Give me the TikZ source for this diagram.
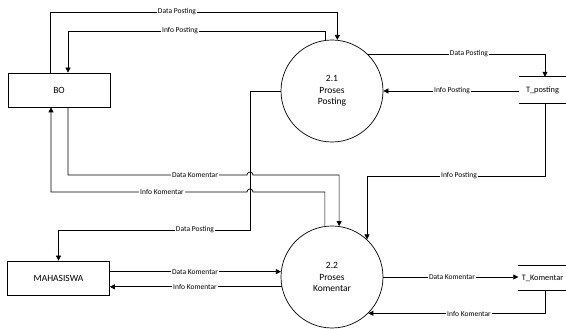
\documentclass[tikz,border=0pt]{standalone}
\usepackage{fontspec}
\setmainfont{Carlito}
\usetikzlibrary{arrows.meta}

\begin{document}
\begin{tikzpicture}[x=1pt,y=1pt,
   flow/.style={draw,line width=0.7pt,-{Triangle[length=5pt,width=5pt]}},
   ent/.style={draw,line width=0.7pt,minimum width=102pt,minimum height=34pt,font=\fontsize{9.5}{11}\selectfont},
   proc/.style={draw,circle,line width=0.7pt,minimum size=102pt,align=center,font=\fontsize{9.5}{11.5}\selectfont},
   store/.style={minimum width=47pt,font=\fontsize{8.3}{10}\selectfont},
   lbl/.style={fill=white,inner sep=0.8pt,font=\fontsize{7.5}{8}\selectfont}]
   \useasboundingbox (0,0) rectangle (566,329);

 \node [ent] (BO) at (59,239) {BO};
 \node [ent] (MHS) at (58.5,51) {MAHASISWA};
 \node [proc] (P21) at (332,238) {2.1\\Proses\\Posting};
 \node [proc] (P22) at (332,52) {2.2\\Proses\\Komentar};
 \node [store,minimum height=26pt] (Tpost) at (542.5,239) {T\_posting};
 \node [store,minimum height=24pt] (Tkom) at (542.5,51) {T\_Komentar};
\draw [line width=0.7pt] (Tpost.north west)--(Tpost.north east) (Tpost.south west)--(Tpost.south east);
\draw [line width=0.7pt] (Tkom.north west)--(Tkom.north east) (Tkom.south west)--(Tkom.south east);

 \coordinate (a1) at (50,317);
 \coordinate (a2) at (68,298);
 \coordinate (a3) at (545,275);
 \coordinate (a4) at (545,153);
 \coordinate (a5) at (250,99);
 \coordinate (a6) at (68,154);
 \coordinate (a7) at (51,137);
 \coordinate (a8) at (545,15);

% posting
\draw [flow] (BO.north -| a1) |- (P21.84 |- a1) -- (P21.84);
\draw [flow] (P21.98) -- (P21.98 |- a2) -| (BO.north -| a2);
\draw [flow] (P21.46) -| (Tpost.north -| a3);
\draw [flow] (Tpost.west |- P21.east) -- (P21.east);
\draw [flow] (Tpost.south -| a4) |- (P22.47 |- a4) -- (P22.47);
\draw [flow] (P21.west) -| (a5) -| (MHS.north);

% komentar
\draw [flow] (BO.south -| a6) -- (a6) -- (247,154) arc [start angle=180,end angle=0,radius=3] -- (P22.82 |- a6) -- (P22.82);
\draw [flow] (P22.98) -- (P22.98 |- a7) -- (253,137) arc [start angle=0,end angle=180,radius=3] -- (a7) -- (BO.south -| a7);
\draw [flow] (MHS.east |- P22.174) -- (P22.174);
\draw [flow] (P22.191) -- (MHS.east |- P22.191);
\draw [flow] (P22.east) -- (P22.east -| Tkom.west);
\draw [flow] (Tkom.south -| a8) |- (P22.-45);

 \node [lbl] (l1) at (177,317) {Data Posting};
 \node [lbl] (l2) at (180,298) {Info Posting};
 \node [lbl] (l3) at (469,275) {Data Posting};
 \node [lbl] (l4) at (452,238) {Info Posting};
 \node [lbl] (l5) at (459,153) {Info Posting};
 \node [lbl] (l6) at (195,99) {Data Posting};
 \node [lbl] (l7) at (195,154) {Data Komentar};
 \node [lbl] (l8) at (162,137) {Info Komentar};
 \node [lbl] (l9) at (195,57.3) {Data Komentar};
 \node [lbl] (l10) at (195,42.3) {Info Komentar};
 \node [lbl] (l11) at (452,52) {Data Komentar};
 \node [lbl] (l12) at (469,15) {Info Komentar};

\end{tikzpicture}
\end{document}
